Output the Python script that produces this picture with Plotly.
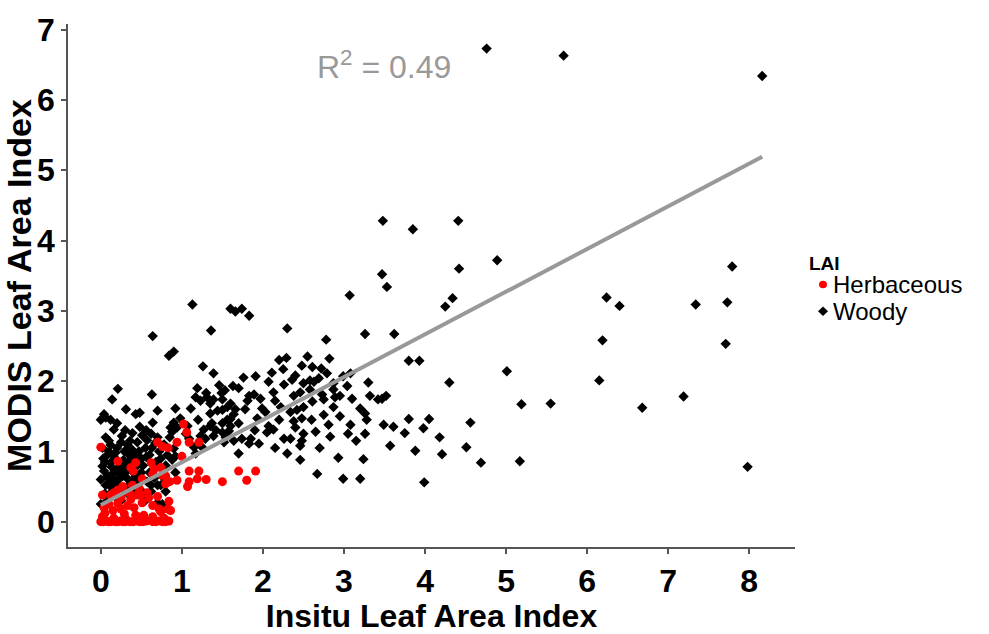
import plotly.graph_objects as go

# Woody sites: (in-situ LAI, MODIS LAI)
woody = [
    (4.76, 6.73), (5.71, 6.63), (8.16, 6.34),
    (3.48, 4.28), (3.85, 4.16), (4.41, 4.28), (4.89, 3.72), (4.42, 3.60), (3.47, 3.52),
    (3.53, 3.34), (4.34, 3.18), (4.25, 3.06), (3.07, 3.22),
    (7.79, 3.63), (6.24, 3.19), (6.40, 3.07), (7.34, 3.09), (7.73, 3.12), (6.19, 2.58),
    (7.71, 2.53), (6.15, 2.01), (7.19, 1.78), (6.68, 1.62), (7.98, 0.78),
    (3.62, 2.67), (3.80, 2.29), (3.93, 2.29), (5.01, 2.14), (4.30, 1.98), (3.47, 1.75),
    (3.52, 1.79), (5.19, 1.67), (5.55, 1.68),
    (3.49, 1.38), (3.61, 1.35), (3.80, 1.46), (4.05, 1.46), (3.98, 1.33), (3.75, 1.26),
    (4.56, 1.41), (4.18, 1.20), (3.57, 1.08), (3.88, 1.01), (4.21, 0.96), (4.51, 1.06),
    (4.69, 0.84), (5.17, 0.86), (3.99, 0.56),
    (2.30, 2.75), (2.78, 2.59), (3.26, 2.67), (2.29, 2.33), (2.82, 2.32),
    (2.48, 2.22), (2.61, 2.20), (2.72, 2.18), (2.25, 2.17), (2.11, 2.12), (1.91, 2.07),
    (2.79, 2.11), (2.40, 2.08), (2.69, 2.04), (3.08, 2.11), (2.87, 1.97), (3.04, 1.93),
    (3.30, 1.98), (2.99, 2.07),
    (2.07, 1.99), (2.26, 1.95), (2.36, 2.02), (2.50, 1.97), (2.58, 2.01), (2.63, 1.99),
    (2.87, 1.88),
    (1.89, 1.81), (1.97, 1.75), (2.13, 1.84), (2.15, 1.72), (2.38, 1.79), (2.46, 1.84),
    (2.58, 1.88), (2.73, 1.81), (2.75, 1.74), (2.89, 1.77), (2.95, 1.79), (2.61, 1.71),
    (3.32, 1.79), (3.42, 1.74),
    (1.99, 1.61), (2.03, 1.56), (2.22, 1.63), (2.34, 1.56), (2.42, 1.59), (2.50, 1.63),
    (2.87, 1.63), (3.20, 1.61), (3.26, 1.54), (2.75, 1.52), (1.93, 1.47),
    (2.81, 1.38), (3.08, 1.38), (2.38, 1.43), (2.40, 1.34), (2.48, 1.47), (2.07, 1.36),
    (2.13, 1.31), (3.28, 1.45), (2.05, 1.27),
    (1.85, 1.18), (1.95, 1.11), (2.26, 1.18), (2.34, 1.18), (2.48, 1.15), (2.50, 1.25),
    (2.46, 1.08), (2.83, 1.21), (3.26, 1.25),
    (2.30, 0.97), (2.46, 0.88), (2.93, 0.91), (3.24, 0.89), (2.67, 0.68), (2.99, 0.61),
    (3.20, 0.61),
    (2.20, 2.30), (2.55, 2.35), (1.76, 2.05), (2.20, 1.45), (2.60, 1.45), (2.65, 1.28),
    (2.95, 1.50), (3.10, 1.75), (3.15, 1.15), (2.70, 1.05), (2.15, 1.05), (3.05, 1.25),
    (1.13, 3.09), (1.60, 3.03), (1.66, 2.99), (1.74, 3.03), (1.83, 2.93), (1.36, 2.72),
    (1.26, 2.21), (1.39, 2.11), (1.46, 1.94), (1.63, 1.93), (1.70, 1.90), (1.19, 1.90),
    (1.17, 1.77), (1.30, 1.83), (1.49, 1.83), (1.53, 1.87), (1.31, 1.77), (1.39, 1.74),
    (1.23, 1.72), (1.50, 1.74), (1.35, 1.68), (1.60, 1.68), (1.56, 1.63), (1.81, 1.72),
    (1.83, 1.79), (1.11, 1.61), (1.66, 1.60), (1.64, 1.53), (1.50, 1.59), (1.35, 1.54),
    (1.44, 1.58), (0.92, 1.61), (0.98, 1.47), (0.90, 1.41), (1.60, 1.46), (1.37, 1.40),
    (1.50, 1.40), (1.56, 1.45), (1.27, 1.31), (1.35, 1.36), (1.60, 1.36), (0.94, 1.34),
    (0.88, 1.28), (1.07, 1.36), (1.50, 1.27), (1.58, 1.29), (1.54, 1.20), (1.23, 1.22),
    (1.29, 1.18), (1.39, 1.22), (1.09, 1.18), (1.64, 1.15), (1.74, 1.18), (1.52, 1.13),
    (1.83, 1.11), (1.15, 1.06), (1.25, 1.06), (1.70, 0.97), (1.17, 0.97),
    (1.05, 1.25), (1.20, 1.45), (1.42, 1.30), (1.70, 1.40), (1.78, 1.60), (1.90, 1.30),
    (0.64, 2.64), (0.84, 2.36), (0.90, 2.42), (0.21, 1.89), (0.14, 1.74), (0.63, 1.81),
    (0.04, 1.53), (0.06, 1.48), (0.31, 1.60), (0.43, 1.53), (0.16, 1.31), (0.39, 1.26),
    (0.64, 1.41), (0.51, 1.23), (0.62, 1.25), (0.45, 1.13), (0.57, 1.16), (0.12, 1.09),
    (0.25, 1.13), (0.33, 1.09), (0.29, 1.00), (0.39, 1.02), (0.47, 1.00), (0.08, 0.95),
    (0.16, 0.93), (0.02, 0.79), (0.12, 0.84), (0.25, 0.82), (0.33, 0.84), (0.04, 0.72),
    (0.16, 0.70), (0.29, 0.75), (0.10, 0.61), (0.21, 0.59), (0.33, 0.61), (0.41, 0.61),
    (0.06, 0.52), (0.21, 0.52), (0.33, 0.50), (0.57, 0.57), (0.70, 0.52), (0.14, 0.43),
    (0.25, 0.45), (0.35, 0.38), (0.62, 0.43), (0.74, 0.52), (0.80, 0.43), (0.70, 0.27),
    (0.76, 0.25), (0.00, 0.25), (0.90, 1.04), (0.92, 0.93), (0.92, 0.70), (0.86, 1.34),
    (0.20, 1.05), (0.35, 0.95), (0.50, 0.90), (0.55, 1.05), (0.60, 0.95), (0.45, 0.80),
    (0.40, 0.70), (0.50, 0.70), (0.60, 0.70), (0.68, 0.85), (0.72, 1.00), (0.78, 1.10),
    (0.20, 0.75), (0.10, 1.00), (0.27, 0.65), (0.45, 0.55), (0.15, 0.55), (0.05, 0.40),
    (0.25, 0.30), (0.40, 0.47), (0.52, 0.42), (0.66, 0.62), (0.80, 0.80), (0.85, 1.20),
    (0.06, 1.20), (0.10, 1.15), (0.30, 1.30), (0.48, 1.35), (0.70, 1.20), (0.02, 1.05),
    (0.00, 1.45), (0.00, 0.60), (0.08, 0.30), (0.18, 0.35), (0.55, 0.30),
    (0.03, 0.90), (0.08, 0.65), (0.13, 0.78), (0.18, 0.98), (0.23, 0.68), (0.28, 0.88),
    (0.32, 0.72), (0.37, 0.88), (0.42, 0.95), (0.47, 0.65), (0.52, 0.80), (0.56, 0.92),
    (0.63, 1.05), (0.67, 1.12), (0.74, 0.90), (0.82, 0.95), (0.88, 0.88), (0.26, 1.22),
    (0.36, 1.15), (0.56, 1.30), (0.20, 1.40), (0.12, 1.45), (0.48, 1.55), (0.70, 1.58),
    (0.05, 0.85), (0.15, 0.62), (0.38, 0.58), (0.62, 0.52), (0.78, 0.62), (0.12, 0.50),
]

# Herbaceous sites: (in-situ LAI, MODIS LAI)
herbaceous = [
    (0.00, 0.00), (0.03, 0.00), (0.06, 0.01), (0.09, 0.00), (0.12, 0.00), (0.15, 0.01),
    (0.18, 0.00), (0.21, 0.00), (0.24, 0.01), (0.27, 0.00), (0.30, 0.00), (0.33, 0.01),
    (0.36, 0.00), (0.40, 0.00), (0.44, 0.01), (0.48, 0.00), (0.52, 0.00), (0.56, 0.01),
    (0.64, 0.00), (0.68, 0.00), (0.72, 0.01), (0.76, 0.00), (0.80, 0.00), (0.84, 0.01),
    (0.02, 0.07), (0.16, 0.05), (0.30, 0.05), (0.45, 0.07), (0.64, 0.07), (0.78, 0.05),
    (0.05, 0.12), (0.15, 0.16), (0.29, 0.11), (0.43, 0.09), (0.53, 0.09),
    (0.10, 0.25), (0.21, 0.26), (0.33, 0.23), (0.41, 0.20), (0.51, 0.27), (0.64, 0.23),
    (0.72, 0.18), (0.84, 0.29), (0.83, 0.18), (0.74, 0.14), (0.86, 0.16), (0.04, 0.20),
    (0.25, 0.18),
    (0.02, 0.38), (0.12, 0.38), (0.25, 0.34), (0.37, 0.32), (0.45, 0.38), (0.70, 0.36),
    (0.27, 0.50), (0.21, 0.45), (0.47, 0.48), (0.57, 0.41), (0.16, 0.41), (0.35, 0.41),
    (0.49, 0.38), (0.59, 0.34), (0.39, 0.52),
    (0.51, 0.61), (0.80, 0.54), (0.85, 0.57), (0.40, 0.72), (0.62, 0.84), (0.66, 0.75),
    (0.74, 0.77), (0.76, 0.66), (0.21, 0.86), (0.43, 0.84), (0.37, 0.77), (0.64, 0.68),
    (0.80, 0.65), (0.00, 1.06), (0.70, 1.13), (0.76, 1.07), (0.83, 1.05),
    (1.02, 1.39), (1.06, 1.27), (0.94, 1.13), (1.09, 1.13), (1.21, 1.13), (1.00, 0.93),
    (1.09, 0.72), (1.21, 0.72), (1.70, 0.72), (1.91, 0.72), (1.19, 0.61), (1.30, 0.60),
    (1.50, 0.57), (1.80, 0.59), (0.94, 0.59), (1.09, 0.57), (1.07, 0.50),
]

# Linear fit over all sites
fit_intercept = 0.237
fit_slope = 0.607
r_squared = 0.49

x_ticks = [0, 1, 2, 3, 4, 5, 6, 7, 8]
y_ticks = [0, 1, 2, 3, 4, 5, 6, 7]

legend_title = "LAI"
legend_labels = ["Herbaceous", "Woody"]

woody_x = [p[0] for p in woody]
woody_y = [p[1] for p in woody]
herb_x = [p[0] for p in herbaceous]
herb_y = [p[1] for p in herbaceous]

all_x = woody_x + herb_x
line_x = [min(all_x), max(all_x)]
line_y = [fit_intercept + fit_slope * v for v in line_x]

FONT = "Liberation Sans, Arial, sans-serif"
HERB_COLOR = "#ff0000"
WOODY_COLOR = "#000000"

fig = go.Figure()
fig.add_trace(go.Scatter(
    x=woody_x, y=woody_y, mode="markers", name=legend_labels[1], showlegend=False,
    marker=dict(symbol="diamond", size=8, color=WOODY_COLOR, line=dict(width=0)),
))
fig.add_trace(go.Scatter(
    x=herb_x, y=herb_y, mode="markers", name=legend_labels[0], showlegend=False,
    marker=dict(symbol="circle", size=9, color=HERB_COLOR, line=dict(width=0)),
))
fig.add_trace(go.Scatter(
    x=line_x, y=line_y, mode="lines", showlegend=False,
    line=dict(color="#999999", width=4),
))

fig.add_annotation(
    x=3.50, y=6.5, xref="x", yref="y", showarrow=False,
    text=f"R<sup>2</sup> = {r_squared:.2f}",
    font=dict(family=FONT, size=32, color="#999999"),
)

# Compact legend to the right of the panel (paper coordinates)
PLOT_L, PLOT_R, PLOT_T, PLOT_B = 68, 795, 24, 572
pw, ph = PLOT_R - PLOT_L, PLOT_B - PLOT_T


def px_x(p):
    return (p - PLOT_L) / pw


def px_y(p):
    return (PLOT_B - p) / ph


fig.add_annotation(
    x=px_x(807), y=px_y(275), xref="paper", yref="paper", xanchor="left", yanchor="middle",
    showarrow=False, text=f"<b>{legend_title}</b>",
    font=dict(family=FONT, size=19, color="black"),
)
label_y = [297, 325]
for label, cy in zip(legend_labels, label_y):
    fig.add_annotation(
        x=px_x(831), y=px_y(cy), xref="paper", yref="paper", xanchor="left", yanchor="middle",
        showarrow=False, text=label,
        font=dict(family=FONT, size=24, color="black"),
    )

kx, ky_h, ky_w = 823, label_y[0], label_y[1]
r = 4
fig.add_shape(
    type="circle", xref="paper", yref="paper",
    x0=px_x(kx - r), x1=px_x(kx + r), y0=px_y(ky_h + r), y1=px_y(ky_h - r),
    fillcolor=HERB_COLOR, line=dict(width=0),
)
d = 5
fig.add_shape(
    type="path", xref="paper", yref="paper",
    path=(f"M {px_x(kx)},{px_y(ky_w - d)} L {px_x(kx + d)},{px_y(ky_w)} "
          f"L {px_x(kx)},{px_y(ky_w + d)} L {px_x(kx - d)},{px_y(ky_w)} Z"),
    fillcolor=WOODY_COLOR, line=dict(width=0),
)

axis_common = dict(
    showgrid=False, zeroline=False, showline=True, linecolor="#555555", linewidth=1.5,
    ticks="outside", ticklen=5, tickcolor="#555555", tickwidth=1.5,
)

fig.update_layout(
    width=989, height=634,
    margin=dict(l=PLOT_L, r=989 - PLOT_R, t=PLOT_T, b=634 - PLOT_B),
    plot_bgcolor="white", paper_bgcolor="white",
    showlegend=False,
    xaxis=dict(
        range=[-0.405, 8.565], tickvals=x_ticks, ticktext=[str(v) for v in x_ticks],
        tickfont=dict(family=FONT, size=32, color="black", weight="bold"),
        title=dict(text="Insitu Leaf Area Index", standoff=0,
                   font=dict(family=FONT, size=32, color="black", weight="bold")),
        **axis_common,
    ),
    yaxis=dict(
        range=[-0.36, 7.08], tickvals=y_ticks, ticktext=[str(v) for v in y_ticks],
        tickfont=dict(family=FONT, size=32, color="black", weight="bold"),
        title=dict(text="MODIS Leaf Area Index", standoff=0,
                   font=dict(family=FONT, size=34, color="black", weight="bold")),
        **axis_common,
    ),
)

fig.write_html("out.html")
